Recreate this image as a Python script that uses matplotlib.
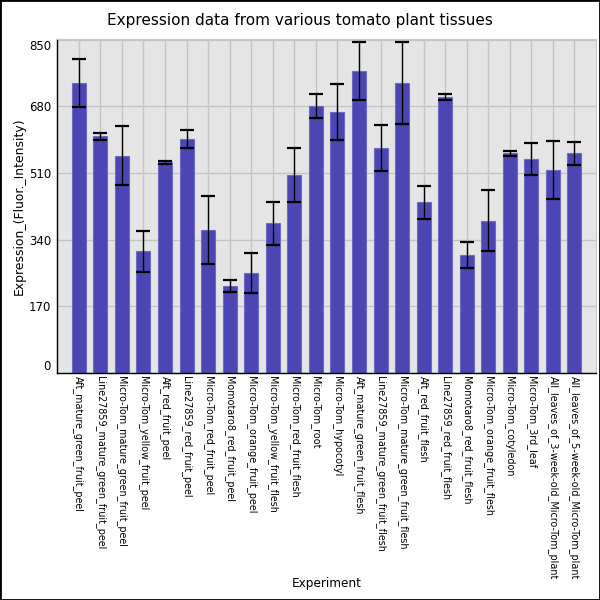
import matplotlib
matplotlib.use("Agg")
import matplotlib.pyplot as plt
from matplotlib.patches import Rectangle

categories = [
    "Aft_mature_green_fruit_peel",
    "Line27859_mature_green_fruit_peel",
    "Micro-Tom_mature_green_fruit_peel",
    "Micro-Tom_yellow_fruit_peel",
    "Aft_red_fruit_peel",
    "Line27859_red_fruit_peel",
    "Micro-Tom_red_fruit_peel",
    "Momotaro8_red_fruit_peel",
    "Micro-Tom_orange_fruit_peel",
    "Micro-Tom_yellow_fruit_flesh",
    "Micro-Tom_red_fruit_flesh",
    "Micro-Tom_root",
    "Micro-Tom_hypocotyl",
    "Aft_mature_green_fruit_flesh",
    "Line27859_mature_green_fruit_flesh",
    "Micro-Tom_mature_green_fruit_flesh",
    "Aft_red_fruit_flesh",
    "Line27859_red_fruit_flesh",
    "Momotaro8_red_fruit_flesh",
    "Micro-Tom_orange_fruit_flesh",
    "Micro-Tom_cotyledon",
    "Micro-Tom_3rd_leaf",
    "All_leaves_of_3-week-old_Micro-Tom_plant",
    "All_leaves_of_5-week-old_Micro-Tom_plant",
]
values = [740, 604, 554, 310, 537, 598, 364, 222, 255, 382, 504, 681,
          666, 770, 574, 740, 435, 704, 300, 389, 560, 546, 517, 560]
errors = [61, 9, 75, 53, 4, 23, 87, 15, 51, 55, 69, 30,
          72, 74, 58, 105, 43, 8, 33, 79, 7, 40, 74, 30]
yticks = [0, 170, 340, 510, 680, 850]

fig = plt.figure(figsize=(6, 6), dpi=100)
ax = fig.add_axes([0.0955, 0.3783, 0.8978, 0.5567])
ax.set_facecolor("#e5e5e5")

x = list(range(len(categories)))
ax.bar(x, values, width=0.65, color="#4b46b3", edgecolor="#6f6bc4",
       linewidth=0.8, zorder=2)
ax.errorbar(x, values, yerr=errors, fmt="none", ecolor="black",
            elinewidth=1.0, capsize=4.7, capthick=1.6, zorder=3)

ax.set_xlim(-1.0, 24.0)
ax.set_ylim(0, 852)
ax.set_yticks(yticks)
ax.set_yticklabels([str(v) for v in yticks], fontsize=8.5)
labs = ax.get_yticklabels()
labs[0].set_va("bottom")
labs[-1].set_va("top")
ax.set_xticks(x)
ax.set_xticklabels(categories, rotation=-90, fontsize=6.9, va="top", ha="center")
ax.tick_params(axis="both", length=0)
ax.tick_params(axis="y", pad=4.5)
ax.tick_params(axis="x", pad=2.5)

ax.grid(True, color="#c4c4c4", linewidth=1.0, zorder=0)
ax.set_axisbelow(True)
for s in ["top", "right"]:
    ax.spines[s].set_color("#c8c8c8")
for s in ["left", "bottom"]:
    ax.spines[s].set_color("black")
    ax.spines[s].set_linewidth(1.0)

ax.set_ylabel("Expression_(Fluor._Intensity)", fontsize=8.9, labelpad=2)
fig.text(0.545, 0.016, "Experiment", ha="center", va="bottom", fontsize=8.7)
fig.text(0.5, 0.965, "Expression data from various tomato plant tissues",
         ha="center", va="center", fontsize=11)

fig.patches.append(Rectangle((0, 0), 1, 1, transform=fig.transFigure,
                             fill=False, edgecolor="black", linewidth=2))
fig.savefig("out.png", dpi=100)
